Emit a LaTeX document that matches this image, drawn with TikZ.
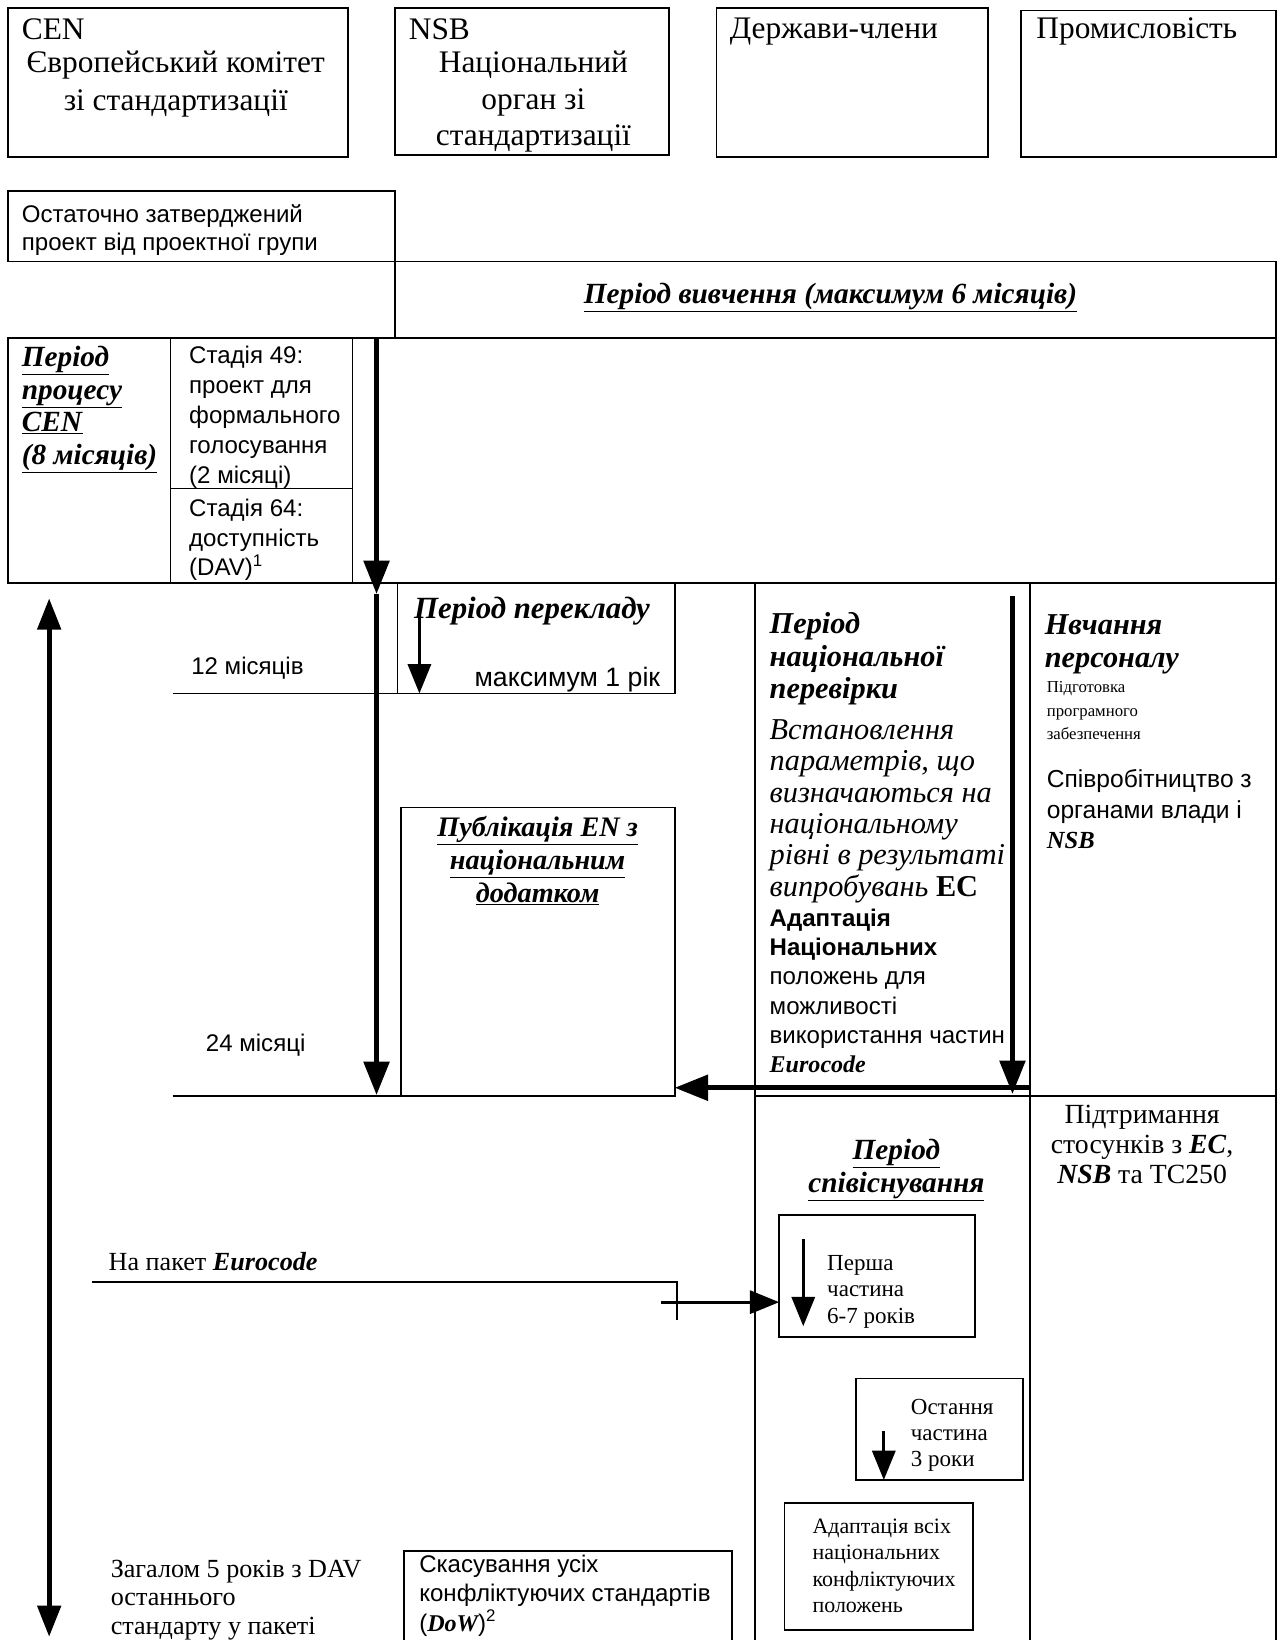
\documentclass[tikz,border=0pt]{standalone}
\usepackage{fontspec}
\setmainfont{Liberation Serif}
\setsansfont{Liberation Sans}
\usetikzlibrary{arrows.meta}
\newcommand\fz[2]{\fontsize{#1}{#2}\selectfont}
\newcommand\bi[1]{\textbf{\textit{#1}}}
\newcommand\ubi[1]{\underline{\textbf{\textit{#1}}}}
\newcommand\rbi[1]{{\rmfamily\bfseries\itshape #1}}
\begin{document}
\begin{tikzpicture}[x=1pt, y=-1pt, line width=1.8pt,
    box/.style={draw, anchor=north west, inner sep=0pt, outer sep=0pt},
    txt/.style={anchor=north west, inner sep=0pt, align=left},
    ctr/.style={anchor=north, inner sep=0pt, align=center},
    bline/.style={anchor=base west, inner sep=0pt},
    bigarr/.style={line width=5pt, -{Triangle[length=32pt, width=24pt]}},
    smarr/.style={line width=3pt, -{Triangle[length=28pt, width=22pt]}}]
    \useasboundingbox (0,0) rectangle (1228,1568);
    \clip (0,0) rectangle (1228,1568);
    \node [box, minimum width=325pt, minimum height=142pt] (cen) at (8,8) {};
    \node [box, minimum width=262pt, minimum height=140pt] (nsb) at (378,8) {};
    \node [box, minimum width=260pt, minimum height=142pt] (ms) at (685,8) {};
    \node [box, minimum width=244pt, minimum height=140pt] (ind) at (976,10) {};
    \node [box, minimum width=370pt, minimum height=67pt] (draft) at (8,183) {};
    \node [box, minimum width=842pt, minimum height=73pt] (study) at (378,250) {};
    \node [box, minimum width=1212pt, minimum height=234pt] (proc) at (8,323) {};
    \node [box, minimum width=155pt, minimum height=234pt] (pcell) at (8,323) {};
    \node [box, minimum width=174pt, minimum height=144pt] (st49) at (163,323) {};
    \node [box, minimum width=174pt, minimum height=90pt] (st64) at (163,467) {};
    \node [box, minimum width=265pt, minimum height=106pt] (trans) at (380,557) {};
    \node [box, minimum width=262pt, minimum height=276pt] (pub) at (383,772) {};
    \node [box, minimum width=263pt, minimum height=491pt] (nat) at (722,557) {};
    \node [box, minimum width=235pt, minimum height=491pt] (train) at (985,557) {};
    \node [box, minimum width=263pt, minimum height=560pt] (coex) at (722,1048) {};
    \node [box, minimum width=235pt, minimum height=560pt] (sup) at (985,1048) {};
    \node [box, minimum width=187pt, minimum height=116pt] (first) at (745,1162) {};
    \node [box, minimum width=160pt, minimum height=97pt] (last) at (818,1318) {};
    \node [box, minimum width=180pt, minimum height=121pt] (adapt) at (750,1437) {};
    \node [box, minimum width=314pt, minimum height=100pt] (dow) at (386,1483) {};

    \node [txt, font=\fz{30}{36}] (cenT) at (20,17) {CEN};
    \node [ctr, font=\fz{30}{36}] (cenN) at (168,48) {Європейський комітет\\зі стандартизації};
    \node [txt, font=\fz{30}{36}] (nsbT) at (390,17) {NSB};
    \node [ctr, font=\fz{30}{35}] (nsbN) at (510,48) {Національний\\орган зі\\стандартизації};
    \node [txt, font=\fz{30}{36}] (msT) at (697,16) {Держави-члени};
    \node [txt, font=\fz{30}{36}] (indT) at (990,16) {Промисловість};
    \node [txt, font=\sffamily\fz{23}{27}] (draftT) at (20,195) {Остаточно затверджений\\проект від проектної групи};
    \node [anchor=base, inner sep=0pt, font=\fz{28}{31}] (studyT) at (794,290) {\ubi{Період вивчення (максимум 6 місяців)}};
    \node [txt, font=\fz{28}{31.3}] (procT) at (20,330) {\ubi{Період}\\\ubi{процесу}\\\ubi{CEN}\\\ubi{(8 місяців)}};
    \node [txt, font=\sffamily\fz{23}{28.7}] (st49T) at (180,330) {Стадія 49:\\проект для\\формального\\голосування\\(2 місяці)};
    \node [txt, font=\sffamily\fz{23}{28.5}] (st64T) at (180,476) {Стадія 64:\\доступність\\(DAV)\textsuperscript{1}};
    \node [bline, font=\sffamily\fz{23}{28}] (m12T) at (182,645) {12 місяців};
    \node [bline, font=\fz{29.5}{31}] (transT) at (395,591) {\bi{Період перекладу}};
    \node [anchor=base east, inner sep=0pt, font=\sffamily\fz{25.5}{28}] (maxT) at (632,656) {максимум 1 рік};
    \node [ctr, font=\fz{27}{31.5}] (pubT) at (514,780) {\ubi{Публікація EN з}\\\ubi{національним}\\\ubi{додатком}};
    \node [bline, font=\sffamily\fz{23}{28}] (m24T) at (196,1005) {24 місяці};
    \node [txt, font=\fz{29}{31}] (natT) at (735,585) {\bi{Період}\\\bi{національної}\\\bi{перевірки}};
    \node [txt, font=\itshape\fz{29}{30}] (parT) at (735,687) {Встановлення\\параметрів, що\\визначаються на\\національному\\рівні в результаті\\випробувань {\upshape\bfseries EC}};
    \node [txt, font=\sffamily\fz{23}{28}] (adT) at (735,868) {\textbf{Адаптація}\\\textbf{Національних}\\положень для\\можливості\\використання частин\\\rbi{Eurocode}};
    \node [txt, font=\fz{29}{31}] (trT) at (998,587) {\bi{Нвчання}\\\bi{персоналу}};
    \node [txt, font=\fz{16}{22.5}] (swT) at (1000,651) {Підготовка\\програмного\\забезпечення};
    \node [txt, font=\sffamily\fz{23.5}{29}] (coopT) at (1000,735) {Співробітництво з\\органами влади і\\\rbi{NSB}};
    \node [ctr, font=\fz{28}{32}] (coexT) at (857,1088) {\ubi{Період}\\\ubi{співіснування}};
    \node [ctr, font=\fz{26.5}{28.5}] (supT) at (1092,1056) {Підтримання\\стосунків з \bi{EC},\\\bi{NSB} та TC250};
    \node [bline, font=\fz{25}{28}] (pkT) at (103,1215) {На пакет \bi{Eurocode}};
    \node [txt, font=\fz{22}{25.5}] (firstT) at (790,1199) {Перша\\частина\\6-7 років};
    \node [txt, font=\fz{22}{25}] (lastT) at (870,1337) {Остання\\частина\\3 роки};
    \node [txt, font=\fz{21}{25.3}] (adaptT) at (776,1451) {Адаптація всіх\\національних\\конфліктуючих\\положень};
    \node [txt, font=\fz{25}{27}] (totT) at (105,1491) {Загалом 5 років з DAV\\останнього\\стандарту у пакеті};
    \node [txt, font=\sffamily\fz{23}{28}] (dowT) at (400,1486) {Скасування усіх\\конфліктуючих стандартів\\(\rbi{DoW})\textsuperscript{2}};

    \coordinate (m12) at (165,663);
    \coordinate (m24) at (165,1048);
    \draw (m12) -- (trans.south west);
    \draw (m24) -- (pub.south west);
    \coordinate (v0) at (360,323);
    \coordinate (v1) at (360,568);
    \coordinate (v2) at (360,1047);
    \path (v0) edge[bigarr] (v1);
    \path (v1) edge[bigarr] (v2);
    \coordinate (t0) at (401,590);
    \path (t0) edge[smarr] (t0 |- trans.south);
    \coordinate (n0) at (968,570);
    \coordinate (n1) at (968,1046);
    \path (n0) edge[bigarr] (n1);
    \coordinate (h0) at (985,1040);
    \path (h0) edge[bigarr] (h0 -| pub.east);
    \coordinate (l0) at (47,572);
    \coordinate (l1) at (47,1565);
    \draw[line width=5pt, {Triangle[length=30pt, width=22pt]}-{Triangle[length=30pt, width=22pt]}] (l0) -- (l1);
    \coordinate (e0) at (88,1226);
    \coordinate (e1) at (647,1226);
    \coordinate (e2) at (647,1262);
    \draw (e0) -- (e1) -- (e2);
    \coordinate (e3) at (632,1245);
    \path (e3) edge[smarr] (e3 -| first.west);
    \coordinate (f0) at (768,1185);
    \coordinate (f1) at (768,1268);
    \path (f0) edge[smarr] (f1);
    \coordinate (s0) at (845,1368);
    \path (s0) edge[smarr] (s0 |- last.south);
\end{tikzpicture}
\end{document}
